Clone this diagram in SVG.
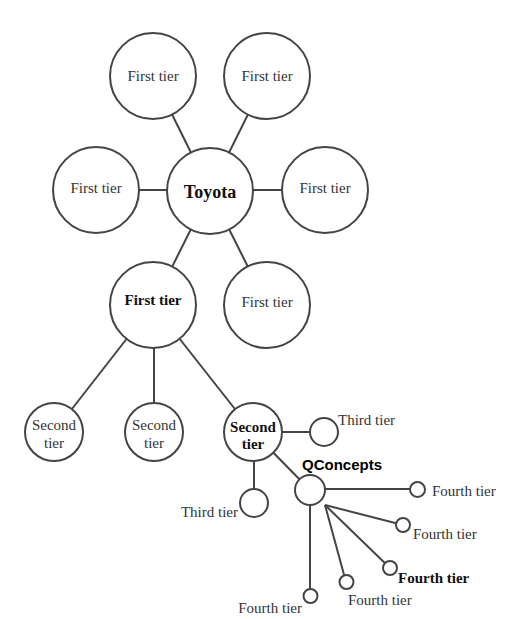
<svg xmlns="http://www.w3.org/2000/svg" width="515" height="619" viewBox="0 0 515 619">
<style>
.n{fill:#fff;stroke:#444;stroke-width:2}
.e{stroke:#444;stroke-width:2;fill:none}
.t{font-family:"Liberation Serif",serif;font-size:15px;fill:#333}
.b{font-weight:bold;fill:#111}
.c{text-anchor:middle}
.q{font-family:"Liberation Sans",Arial,sans-serif;font-size:15px;font-weight:bold;fill:#000}
</style>
<rect width="515" height="619" fill="#fff"/>
<g id="connectors">
<line class="e" x1="210" y1="191" x2="153" y2="76"/>
<line class="e" x1="210" y1="191" x2="267" y2="76"/>
<line class="e" x1="96" y1="190" x2="325" y2="190"/>
<line class="e" x1="210" y1="191" x2="153" y2="305"/>
<line class="e" x1="210" y1="191" x2="267" y2="305"/>
<line class="e" x1="153" y1="305" x2="54" y2="432"/>
<line class="e" x1="154" y1="305" x2="154" y2="432"/>
<line class="e" x1="153" y1="305" x2="253" y2="432"/>
<line class="e" x1="253" y1="432" x2="324" y2="432"/>
<line class="e" x1="254" y1="432" x2="254" y2="503"/>
<line class="e" x1="253" y1="432" x2="310" y2="490"/>
<line class="e" x1="310" y1="489" x2="417" y2="489"/>
<line class="e" x1="325" y1="505" x2="403" y2="525"/>
<line class="e" x1="325" y1="505" x2="390" y2="568"/>
<line class="e" x1="325" y1="505" x2="346" y2="582"/>
<line class="e" x1="310" y1="490" x2="310" y2="596"/>
</g>
<g id="toyota"><circle class="n" cx="210" cy="191" r="43"/><text class="t b c" x="210" y="198" font-size="18" style="font-size:18px">Toyota</text></g>
<g id="first-tl"><circle class="n" cx="153" cy="76" r="43"/><text class="t c" x="153" y="81">First tier</text></g>
<g id="first-tr"><circle class="n" cx="267" cy="76" r="43"/><text class="t c" x="267" y="81">First tier</text></g>
<g id="first-l"><circle class="n" cx="96" cy="190" r="43"/><text class="t c" x="96" y="193">First tier</text></g>
<g id="first-r"><circle class="n" cx="325" cy="190" r="43"/><text class="t c" x="325" y="193">First tier</text></g>
<g id="first-bl"><circle class="n" cx="153" cy="305" r="43"/><text class="t b c" x="153" y="305">First tier</text></g>
<g id="first-br"><circle class="n" cx="267" cy="305" r="43"/><text class="t c" x="267" y="307">First tier</text></g>
<g id="second-1"><circle class="n" cx="54" cy="432" r="29"/><text class="t c" x="54" y="430">Second</text><text class="t c" x="54" y="448">tier</text></g>
<g id="second-2"><circle class="n" cx="154" cy="432" r="29"/><text class="t c" x="154" y="430">Second</text><text class="t c" x="154" y="448">tier</text></g>
<g id="second-3"><circle class="n" cx="253" cy="432" r="29"/><text class="t b c" x="253" y="432">Second</text><text class="t b c" x="253" y="449">tier</text></g>
<g id="third-1"><circle class="n" cx="324" cy="432" r="14"/><text class="t" x="338" y="425">Third tier</text></g>
<g id="third-2"><circle class="n" cx="254" cy="503" r="14"/><text class="t" x="238" y="517" text-anchor="end">Third tier</text></g>
<g id="hub"><circle class="n" cx="310" cy="490" r="15"/><text class="q" x="302" y="470">QConcepts</text></g>
<g id="fourth-1"><circle class="n" cx="417.5" cy="489.5" r="7.5"/><text class="t" x="432" y="496">Fourth tier</text></g>
<g id="fourth-2"><circle class="n" cx="403" cy="525" r="7"/><text class="t" x="413" y="539">Fourth tier</text></g>
<g id="fourth-3"><circle class="n" cx="390" cy="568" r="7"/><text class="t b" x="398" y="583">Fourth tier</text></g>
<g id="fourth-4"><circle class="n" cx="346.5" cy="582" r="7"/><text class="t" x="348" y="605">Fourth tier</text></g>
<g id="fourth-5"><circle class="n" cx="310.5" cy="596" r="7"/><text class="t" x="302" y="613" text-anchor="end">Fourth tier</text></g>
</svg>
